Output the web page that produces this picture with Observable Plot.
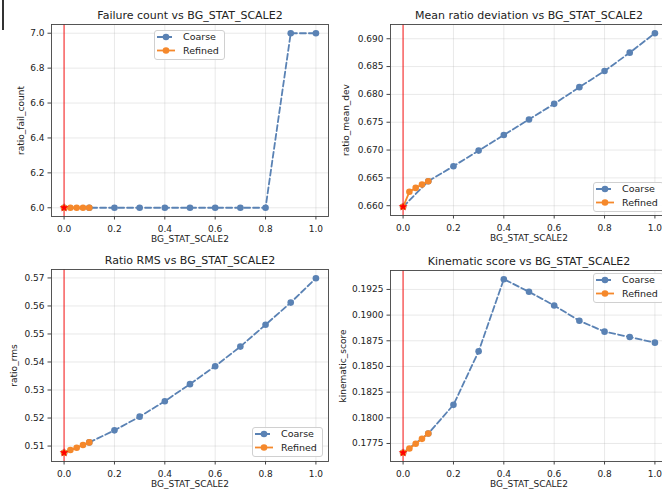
<!DOCTYPE html>
<html><head><meta charset="utf-8">
<script src="https://cdn.jsdelivr.net/npm/d3@7"></script>
<script src="https://cdn.jsdelivr.net/npm/@observablehq/plot@0.6"></script>
<style>
body{margin:0;background:#fff;font-family:"DejaVu Sans",sans-serif;}
#fig{position:relative;width:662px;height:491px;overflow:hidden;background:#fff;}
.panel{position:absolute;}
.legend{position:absolute;}
#edge{position:absolute;left:2px;top:0;width:1.5px;height:30px;background:#333;}
</style></head><body><div id="fig"><div id="edge"></div></div><script>
// ---- data ----
const xCoarse = [0, 0.1, 0.2, 0.3, 0.4, 0.5, 0.6, 0.7, 0.8, 0.9, 1.0];
const xRefined = [0, 0.025, 0.05, 0.075, 0.1];
const bestX = 0;
const xTicks = [0, 0.2, 0.4, 0.6, 0.8, 1.0];
const xLabel = "BG_STAT_SCALE2";
const seriesNames = ["Coarse", "Refined"];

const failCoarse = [6, 6, 6, 6, 6, 6, 6, 6, 6, 7, 7];
const failRefined = [6, 6, 6, 6, 6];
const failTicks = [6.0, 6.2, 6.4, 6.6, 6.8, 7.0];

const meanDevCoarse = [0.6598, 0.6644, 0.6671, 0.6699, 0.6727, 0.6755, 0.6783, 0.6813, 0.6842, 0.6875, 0.6910];
const meanDevRefined = [0.6598, 0.6625, 0.6632, 0.6638, 0.6644];
const meanDevTicks = [0.660, 0.665, 0.670, 0.675, 0.680, 0.685, 0.690];

const rmsCoarse = [0.5076, 0.5113, 0.5156, 0.5205, 0.5260, 0.5321, 0.5385, 0.5455, 0.5533, 0.5612, 0.5699];
const rmsRefined = [0.5076, 0.5086, 0.5094, 0.5104, 0.5113];
const rmsTicks = [0.51, 0.52, 0.53, 0.54, 0.55, 0.56, 0.57];

const kinCoarse = [0.17659, 0.17847, 0.18126, 0.18647, 0.19350, 0.19227, 0.19094, 0.18945, 0.18839, 0.18787, 0.18732];
const kinRefined = [0.17659, 0.17701, 0.17747, 0.17795, 0.17847];
const kinTicks = [0.1775, 0.1800, 0.1825, 0.1850, 0.1875, 0.1900, 0.1925];

const BLUE = "#5a82b4";
const ORANGE = "#f5882b";
const DASH = "6,3";
const fig = document.getElementById("fig");

function panel(cfg) {
  const {coarse, refined, title, ylabel, ticks, fmt, left, top, width, height, m, ylabelDx, legend} = cfg;
  const all = coarse.concat(refined);
  const lo = d3.min(all), hi = d3.max(all), pad = (hi - lo) * 0.05;
  const C = xCoarse.map((x, i) => ({x, y: coarse[i]}));
  const R = xRefined.map((x, i) => ({x, y: refined[i]}));
  const bi = xCoarse.indexOf(bestX);
  const best = [{x: bestX, y: coarse[bi]}];
  const svg = Plot.plot({
    width, height,
    marginLeft: m[0], marginRight: m[1], marginTop: m[2], marginBottom: m[3],
    style: {fontFamily: "DejaVu Sans, sans-serif", fontSize: "9px", color: "#222", background: "transparent", overflow: "visible"},
    x: {domain: [-0.05, 1.05]},
    y: {domain: [lo - pad, hi + pad]},
    marks: [
      Plot.gridX(xTicks, {stroke: "#b0b0b0", strokeOpacity: 0.35, strokeWidth: 0.8}),
      Plot.gridY(ticks, {stroke: "#b0b0b0", strokeOpacity: 0.35, strokeWidth: 0.8}),
      Plot.ruleX([bestX], {stroke: "red", strokeOpacity: 0.65, strokeWidth: 1.4}),
      Plot.line(C, {x: "x", y: "y", stroke: BLUE, strokeWidth: 1.8, strokeDasharray: DASH}),
      Plot.dot(C, {x: "x", y: "y", fill: BLUE, r: 3.3}),
      Plot.line(R, {x: "x", y: "y", stroke: ORANGE, strokeWidth: 1.8}),
      Plot.dot(R, {x: "x", y: "y", fill: ORANGE, r: 3.3}),
      Plot.dot(best, {x: "x", y: "y", symbol: "star", fill: "red", r: 2.8}),
      Plot.frame({stroke: "#444", strokeWidth: 0.9}),
      Plot.axisX(xTicks, {tickSize: 3.5, tickPadding: 6, tickFormat: d3.format(".1f"), label: null, stroke: "#444", fill: "#222"}),
      Plot.axisY(ticks, {tickSize: 3.5, tickPadding: 3.5, tickFormat: d3.format(fmt), label: null, stroke: "#444", fill: "#222"}),
      Plot.text([title], {frameAnchor: "top", dy: -9, fontSize: 11, lineAnchor: "middle", textAnchor: "middle", fill: "#222"}),
      Plot.text([xLabel], {frameAnchor: "bottom", dy: 23, lineAnchor: "middle", textAnchor: "middle", fill: "#222"}),
      Plot.text([ylabel], {frameAnchor: "left", dx: ylabelDx, rotate: -90, lineAnchor: "middle", textAnchor: "middle", fill: "#222"})
    ]
  });
  svg.classList.add("panel");
  svg.style.left = left + "px";
  svg.style.top = top + "px";
  fig.appendChild(svg);

  // legend
  const lg = d3.select(fig).append("svg").attr("class", "legend")
    .attr("width", 71).attr("height", 30)
    .style("left", legend[0] + "px").style("top", legend[1] + "px");
  lg.append("rect").attr("x", 0.5).attr("y", 0.5).attr("width", 70).attr("height", 29).attr("rx", 2.5)
    .attr("fill", "white").attr("fill-opacity", 0.85).attr("stroke", "#d0d0d0").attr("stroke-width", 1);
  const rows = [{name: seriesNames[0], color: BLUE, dash: DASH, cy: 7}, {name: seriesNames[1], color: ORANGE, dash: null, cy: 20.5}];
  rows.forEach(r => {
    const ln = lg.append("line").attr("x1", 3).attr("x2", 21).attr("y1", r.cy).attr("y2", r.cy)
      .attr("stroke", r.color).attr("stroke-width", 1.8);
    if (r.dash) ln.attr("stroke-dasharray", r.dash);
    lg.append("circle").attr("cx", 12).attr("cy", r.cy).attr("r", 3.3).attr("fill", r.color);
    lg.append("text").attr("x", 29).attr("y", r.cy).attr("dy", "0.35em").attr("font-size", 9.5)
      .attr("font-family", "DejaVu Sans, sans-serif").attr("fill", "#222").text(r.name);
  });
}

panel({coarse: failCoarse, refined: failRefined, title: "Failure count vs BG_STAT_SCALE2", ylabel: "ratio_fail_count",
  ticks: failTicks, fmt: ".1f", left: 0, top: 0, width: 331, height: 245, m: [51, 3, 24, 29], ylabelDx: -30, legend: [154, 30]});
panel({coarse: meanDevCoarse, refined: meanDevRefined, title: "Mean ratio deviation vs BG_STAT_SCALE2", ylabel: "ratio_mean_dev",
  ticks: meanDevTicks, fmt: ".3f", left: 331, top: 0, width: 339, height: 245, m: [59, 3, 24, 30], ylabelDx: -44, legend: [593, 182]});
panel({coarse: rmsCoarse, refined: rmsRefined, title: "Ratio RMS vs BG_STAT_SCALE2", ylabel: "ratio_rms",
  ticks: rmsTicks, fmt: ".2f", left: 0, top: 245, width: 331, height: 246, m: [51, 3, 24, 30], ylabelDx: -37, legend: [252, 427]});
panel({coarse: kinCoarse, refined: kinRefined, title: "Kinematic score vs BG_STAT_SCALE2", ylabel: "kinematic_score",
  ticks: kinTicks, fmt: ".4f", left: 331, top: 245, width: 339, height: 246, m: [59, 3, 25, 30], ylabelDx: -47.5, legend: [593, 273]});
</script></body></html>
